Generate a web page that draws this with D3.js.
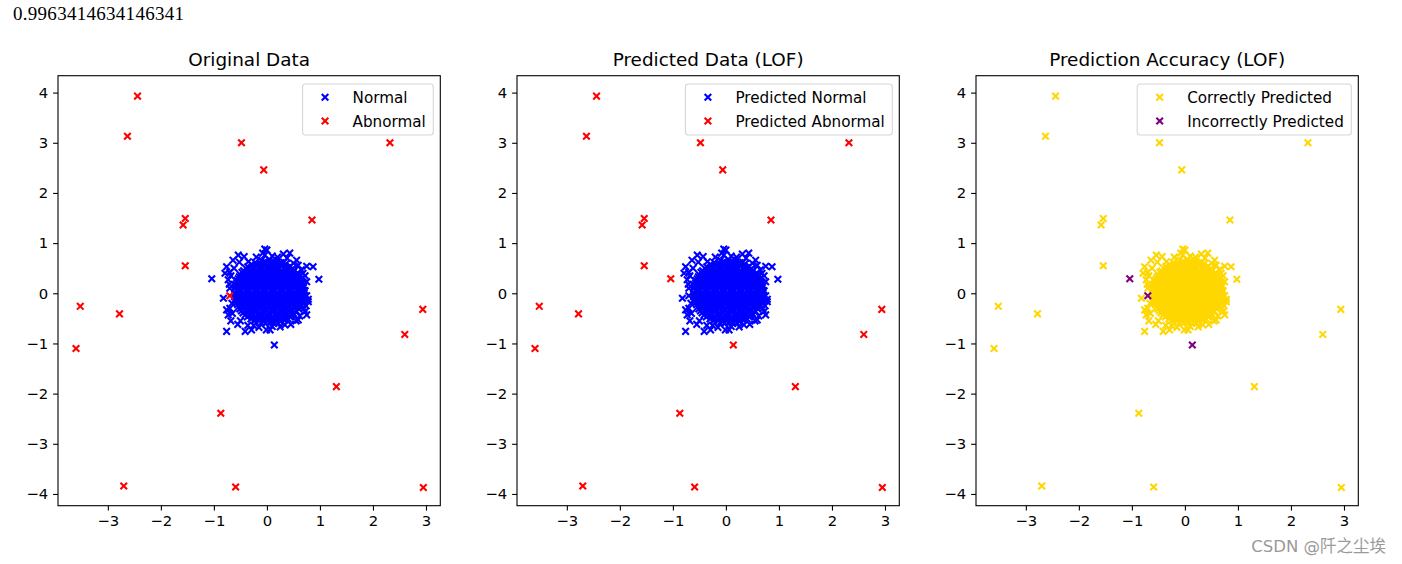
<!DOCTYPE html>
<html>
<head>
<meta charset="utf-8">
<script src="https://cdn.jsdelivr.net/npm/d3@7"></script>
<style>
  body { margin: 0; background: #fff; }
  svg { display: block; }
</style>
</head>
<body>
<svg></svg>
<script>
const accuracy = "0.9963414634146341";

// inliers that LOF kept as normal (dense cloud)
const normalPts = [
    [-0.10,0.66],[-0.03,0.63],[0.05,0.67],[0.13,0.64],[0.20,0.66],
    [-0.22,0.61],[-0.14,0.60],[-0.06,0.62],[0.02,0.60],[0.10,0.62],[0.18,0.60],[0.26,0.61],[0.32,0.62],
    [-0.29,0.58],[-0.21,0.56],[-0.13,0.59],[-0.05,0.56],[0.03,0.58],[0.11,0.55],[0.19,0.58],[0.27,0.56],[0.35,0.58],
    [-0.36,0.53],[-0.28,0.52],[-0.20,0.54],[-0.12,0.52],[-0.04,0.54],[0.04,0.52],[0.12,0.54],[0.20,0.52],[0.28,0.54],[0.36,0.52],[0.44,0.54],
    [-0.40,0.50],[-0.32,0.47],[-0.24,0.50],[-0.16,0.48],[-0.08,0.51],[0.00,0.48],[0.08,0.50],[0.16,0.47],[0.24,0.50],[0.32,0.48],[0.40,0.51],[0.47,0.48],
    [-0.44,0.45],[-0.36,0.44],[-0.28,0.46],[-0.20,0.44],[-0.12,0.46],[-0.04,0.44],[0.04,0.46],[0.12,0.44],[0.20,0.46],[0.28,0.44],[0.36,0.46],[0.44,0.44],[0.52,0.46],
    [-0.47,0.42],[-0.38,0.40],[-0.30,0.43],[-0.22,0.40],[-0.14,0.42],[-0.06,0.39],[0.02,0.42],[0.10,0.40],[0.18,0.43],[0.26,0.40],[0.34,0.42],[0.42,0.39],[0.50,0.42],[0.57,0.40],
    [-0.50,0.37],[-0.42,0.36],[-0.34,0.38],[-0.26,0.36],[-0.18,0.38],[-0.10,0.36],[-0.02,0.38],[0.06,0.36],[0.14,0.38],[0.22,0.36],[0.30,0.38],[0.38,0.36],[0.46,0.38],[0.54,0.36],[0.60,0.38],
    [-0.52,0.33],[-0.44,0.35],[-0.36,0.32],[-0.28,0.34],[-0.20,0.31],[-0.12,0.34],[-0.04,0.32],[0.04,0.35],[0.12,0.32],[0.20,0.34],[0.28,0.31],[0.36,0.34],[0.44,0.32],[0.52,0.35],[0.61,0.33],
    [-0.54,0.29],[-0.46,0.28],[-0.38,0.30],[-0.30,0.28],[-0.22,0.30],[-0.14,0.28],[-0.06,0.30],[0.02,0.28],[0.10,0.30],[0.18,0.28],[0.26,0.30],[0.34,0.28],[0.42,0.30],[0.50,0.28],[0.58,0.30],[0.64,0.29],
    [-0.56,0.25],[-0.48,0.23],[-0.40,0.26],[-0.32,0.24],[-0.24,0.26],[-0.16,0.23],[-0.08,0.25],[0.00,0.27],[0.08,0.24],[0.16,0.26],[0.24,0.23],[0.32,0.25],[0.40,0.27],[0.48,0.24],[0.56,0.26],[0.65,0.24],
    [-0.57,0.21],[-0.49,0.20],[-0.41,0.22],[-0.33,0.20],[-0.25,0.22],[-0.17,0.20],[-0.09,0.22],[-0.01,0.20],[0.07,0.22],[0.15,0.20],[0.23,0.22],[0.31,0.20],[0.39,0.22],[0.47,0.20],[0.55,0.22],[0.63,0.20],[0.68,0.22],
    [-0.59,0.17],[-0.50,0.19],[-0.42,0.16],[-0.34,0.18],[-0.26,0.15],[-0.18,0.18],[-0.10,0.16],[-0.02,0.19],[0.06,0.16],[0.14,0.18],[0.22,0.15],[0.30,0.18],[0.38,0.16],[0.46,0.19],[0.54,0.16],[0.62,0.18],[0.69,0.16],
    [-0.60,0.13],[-0.52,0.12],[-0.44,0.14],[-0.36,0.12],[-0.28,0.14],[-0.20,0.12],[-0.12,0.14],[-0.04,0.12],[0.04,0.14],[0.12,0.12],[0.20,0.14],[0.28,0.12],[0.36,0.14],[0.44,0.12],[0.52,0.14],[0.60,0.12],[0.69,0.13],
    [-0.61,0.09],[-0.53,0.07],[-0.45,0.10],[-0.37,0.08],[-0.29,0.11],[-0.21,0.08],[-0.13,0.10],[-0.05,0.07],[0.03,0.10],[0.11,0.08],[0.19,0.11],[0.27,0.08],[0.35,0.10],[0.43,0.07],[0.51,0.10],[0.59,0.08],[0.68,0.10],
    [-0.57,0.05],[-0.49,0.04],[-0.41,0.06],[-0.33,0.04],[-0.25,0.06],[-0.17,0.04],[-0.09,0.06],[-0.01,0.04],[0.07,0.06],[0.15,0.04],[0.23,0.06],[0.31,0.04],[0.39,0.06],[0.47,0.04],[0.55,0.06],[0.63,0.04],[0.71,0.05],
    [-0.60,0.01],[-0.52,0.03],[-0.44,0.00],[-0.36,0.02],[-0.28,-0.01],[-0.20,0.02],[-0.12,0.00],[-0.04,0.03],[0.04,0.00],[0.12,0.02],[0.20,-0.01],[0.28,0.02],[0.36,0.00],[0.44,0.03],[0.52,0.00],[0.60,0.02],[0.70,0.00],
    [-0.60,-0.03],[-0.52,-0.04],[-0.44,-0.02],[-0.36,-0.04],[-0.28,-0.02],[-0.20,-0.04],[-0.12,-0.02],[-0.04,-0.04],[0.04,-0.02],[0.12,-0.04],[0.20,-0.02],[0.28,-0.04],[0.36,-0.02],[0.44,-0.04],[0.52,-0.02],[0.60,-0.04],[0.69,-0.03],
    [-0.61,-0.07],[-0.53,-0.05],[-0.45,-0.08],[-0.37,-0.06],[-0.29,-0.09],[-0.21,-0.06],[-0.13,-0.08],[-0.05,-0.05],[0.03,-0.08],[0.11,-0.06],[0.19,-0.09],[0.27,-0.06],[0.35,-0.08],[0.43,-0.05],[0.51,-0.08],[0.59,-0.06],[0.69,-0.08],
    [-0.59,-0.11],[-0.51,-0.12],[-0.43,-0.10],[-0.35,-0.12],[-0.27,-0.10],[-0.19,-0.12],[-0.11,-0.10],[-0.03,-0.12],[0.05,-0.10],[0.13,-0.12],[0.21,-0.10],[0.29,-0.12],[0.37,-0.10],[0.45,-0.12],[0.53,-0.10],[0.61,-0.12],[0.68,-0.11],
    [-0.58,-0.15],[-0.50,-0.13],[-0.42,-0.16],[-0.34,-0.14],[-0.26,-0.17],[-0.18,-0.14],[-0.10,-0.16],[-0.02,-0.13],[0.06,-0.16],[0.14,-0.14],[0.22,-0.17],[0.30,-0.14],[0.38,-0.16],[0.46,-0.13],[0.54,-0.16],[0.61,-0.15],[0.67,-0.14],
    [-0.57,-0.19],[-0.49,-0.20],[-0.41,-0.18],[-0.33,-0.20],[-0.25,-0.18],[-0.17,-0.20],[-0.09,-0.18],[-0.01,-0.20],[0.07,-0.18],[0.15,-0.20],[0.23,-0.18],[0.31,-0.20],[0.39,-0.18],[0.47,-0.20],[0.55,-0.18],[0.62,-0.20],[0.67,-0.19],
    [-0.55,-0.23],[-0.47,-0.21],[-0.39,-0.24],[-0.31,-0.22],[-0.23,-0.25],[-0.15,-0.22],[-0.07,-0.24],[0.01,-0.21],[0.09,-0.24],[0.17,-0.22],[0.25,-0.25],[0.33,-0.22],[0.41,-0.24],[0.49,-0.21],[0.57,-0.24],[0.64,-0.22],
    [-0.53,-0.27],[-0.45,-0.28],[-0.37,-0.26],[-0.29,-0.28],[-0.21,-0.26],[-0.13,-0.28],[-0.05,-0.26],[0.03,-0.28],[0.11,-0.26],[0.19,-0.28],[0.27,-0.26],[0.35,-0.28],[0.43,-0.26],[0.51,-0.28],[0.58,-0.26],[0.63,-0.27],
    [-0.51,-0.31],[-0.43,-0.29],[-0.35,-0.32],[-0.27,-0.30],[-0.19,-0.33],[-0.11,-0.30],[-0.03,-0.32],[0.05,-0.29],[0.13,-0.32],[0.21,-0.30],[0.29,-0.33],[0.37,-0.30],[0.45,-0.32],[0.53,-0.29],[0.60,-0.31],
    [-0.48,-0.35],[-0.40,-0.36],[-0.32,-0.34],[-0.24,-0.36],[-0.16,-0.34],[-0.08,-0.36],[0.00,-0.34],[0.08,-0.36],[0.16,-0.34],[0.24,-0.36],[0.32,-0.34],[0.40,-0.36],[0.48,-0.34],[0.56,-0.36],
    [-0.45,-0.39],[-0.37,-0.37],[-0.29,-0.40],[-0.21,-0.38],[-0.13,-0.41],[-0.05,-0.38],[0.03,-0.40],[0.11,-0.37],[0.19,-0.40],[0.27,-0.38],[0.35,-0.41],[0.43,-0.38],[0.50,-0.40],
    [-0.41,-0.43],[-0.33,-0.44],[-0.25,-0.42],[-0.17,-0.44],[-0.09,-0.42],[-0.01,-0.44],[0.07,-0.42],[0.15,-0.44],[0.23,-0.42],[0.31,-0.44],[0.39,-0.42],[0.47,-0.44],[0.51,-0.43],
    [-0.37,-0.47],[-0.29,-0.45],[-0.21,-0.48],[-0.13,-0.46],[-0.05,-0.49],[0.03,-0.46],[0.11,-0.48],[0.19,-0.45],[0.27,-0.48],[0.35,-0.46],[0.44,-0.47],
    [-0.30,-0.51],[-0.22,-0.52],[-0.14,-0.50],[-0.06,-0.52],[0.02,-0.50],[0.10,-0.52],[0.18,-0.50],[0.26,-0.52],[0.34,-0.50],[0.40,-0.51],
    [-0.23,-0.55],[-0.15,-0.53],[-0.07,-0.56],[0.01,-0.54],[0.09,-0.57],[0.17,-0.54],[0.25,-0.56],[0.33,-0.53],
    [-0.11,-0.59],[-0.03,-0.60],[0.05,-0.58],[0.13,-0.60],[0.21,-0.59],
    // ragged edge of the cloud
    [-0.04,0.88],[0.00,0.86],[-0.08,0.80],[0.31,0.78],[0.43,0.80],[0.56,0.66],[0.59,0.56],[0.75,0.54],[0.87,0.53],
    [0.98,0.28],[0.75,0.23],[0.78,-0.12],[0.78,-0.17],[0.75,-0.43],[0.59,-0.53],[0.34,-0.63],[0.06,-0.73],[-0.01,-0.73],
    [0.25,-0.67],[-0.29,-0.73],[-0.41,-0.76],[-0.76,-0.76],[-0.73,-0.43],[-0.76,-0.33],[-0.82,-0.10],[-0.73,0.27],
    [-0.79,0.40],[-0.76,0.53],[-0.64,0.66],[-0.54,0.76],[-0.43,0.73],[-0.35,0.63],[-0.04,0.76],[0.20,0.72],[0.68,0.40],
    [0.70,-0.30],[0.45,-0.62],[-0.15,-0.68],[-0.55,-0.62],[-0.68,-0.55],[-0.70,0.10],[-0.66,-0.20],[0.72,0.05],
    [-0.68,0.35],[-0.70,-0.30],[-0.62,0.50],[0.72,0.35],[0.74,-0.25],[0.62,-0.45],[-0.50,-0.55],[0.50,0.60],
    [-0.20,0.72],[0.10,-0.66],[-0.36,-0.64],[0.65,0.47],[-0.71,0.18],[0.75,-0.05],[-0.52,0.62],[0.38,0.70],
    [-0.65,-0.40],[0.55,-0.55],[-0.70,0.42],[0.10,0.74],[-0.25,-0.64],[0.72,-0.36]
];
// inliers that LOF flagged as abnormal
const falseAlarmPts = [[-1.04,0.29],[0.14,-1.03]];
// outliers that LOF flagged as abnormal
const abnormalPts = [
    [-2.44,3.93],[-2.63,3.13],[-0.48,3.00],[2.32,3.00],[-0.06,2.46],[-1.54,1.49],[-1.58,1.36],
    [0.85,1.46],[-1.54,0.55],[-3.52,-0.26],[-2.78,-0.41],[-3.60,-1.10],[2.94,-0.32],[2.60,-0.82],
    [1.31,-1.86],[-0.87,-2.39],[-2.70,-3.84],[-0.59,-3.86],[2.95,-3.87]
];
// outlier that LOF missed
const missedPts = [[-0.70,-0.05]];

const xTicks = [-3, -2, -1, 0, 1, 2, 3];
const yTicks = [-4, -3, -2, -1, 0, 1, 2, 3, 4];

const panels = [
    { title: "Original Data", series: [
        { label: "Normal", color: "blue", pts: normalPts.concat(falseAlarmPts) },
        { label: "Abnormal", color: "red", pts: abnormalPts.concat(missedPts) } ] },
    { title: "Predicted Data (LOF)", series: [
        { label: "Predicted Normal", color: "blue", pts: normalPts.concat(missedPts) },
        { label: "Predicted Abnormal", color: "red", pts: abnormalPts.concat(falseAlarmPts) } ] },
    { title: "Prediction Accuracy (LOF)", series: [
        { label: "Correctly Predicted", color: "gold", pts: normalPts.concat(abnormalPts) },
        { label: "Incorrectly Predicted", color: "purple", pts: falseAlarmPts.concat(missedPts) } ] }
];

let svgWidth = 1402, svgHeight = 564;
let svg = d3.select("svg").attr("width", svgWidth).attr("height", svgHeight);

svg.append("text")
    .attr("x", 13).attr("y", 20)
    .attr("font-family", "'Liberation Serif', serif")
    .attr("font-size", 19)
    .attr("fill", "#000")
    .attr("textLength", 171)
    .text(accuracy);

let lefts = [58, 517, 976];
let axTop = 75.7, width = 382.3, height = 430;
let font = "'DejaVu Sans', sans-serif";

let x = d3.scaleLinear().domain([-3.94, 3.27]).range([0, width]);
let y = d3.scaleLinear().domain([-4.234, 4.337]).range([height, 0]);

let cross = "M-3.3,-3.3L3.3,3.3M-3.3,3.3L3.3,-3.3";
let fmt = d => d < 0 ? "\u2212" + Math.abs(d) : String(d);

panels.forEach(function (p, i) {
    let g = svg.append("g").attr("transform", "translate(" + lefts[i] + "," + axTop + ")");

    p.series.forEach(function (s) {
        g.append("g").selectAll("path")
            .data(s.pts)
            .enter().append("path")
            .attr("transform", d => "translate(" + x(d[0]) + "," + y(d[1]) + ")")
            .attr("d", cross)
            .attr("fill", "none")
            .attr("stroke", s.color)
            .attr("stroke-width", 2.1);
    });

    let xa = g.append("g")
        .attr("transform", "translate(0," + height + ")")
        .call(d3.axisBottom(x).tickValues(xTicks).tickFormat(fmt).tickSize(4.9).tickPadding(4.9));
    let ya = g.append("g")
        .call(d3.axisLeft(y).tickValues(yTicks).tickFormat(fmt).tickSize(4.9).tickPadding(4.9));
    [xa, ya].forEach(function (a) {
        a.select(".domain").remove();
        a.selectAll("line").attr("stroke", "#000").attr("stroke-width", 1.1);
        a.selectAll("text").attr("font-family", font).attr("font-size", 14.8).attr("fill", "#000");
    });

    g.append("rect")
        .attr("width", width).attr("height", height)
        .attr("fill", "none").attr("stroke", "#000").attr("stroke-width", 1.1);

    g.append("text")
        .attr("x", width / 2).attr("y", -9.5)
        .attr("text-anchor", "middle")
        .attr("font-family", font).attr("font-size", 18.4)
        .attr("fill", "#000")
        .text(p.title);

    // legend
    let lg = g.append("g");
    let box = lg.append("rect");
    let rows = [13.3, 37];
    let texts = p.series.map(function (s, k) {
        return lg.append("text")
            .attr("x", 50).attr("y", rows[k] + 5.5)
            .attr("font-family", font).attr("font-size", 15.2)
            .attr("fill", "#000")
            .text(s.label);
    });
    let tw = d3.max(texts, t => t.node().getComputedTextLength());
    let bw = 50 + tw + 7.5;
    p.series.forEach(function (s, k) {
        lg.append("path")
            .attr("transform", "translate(22.5," + rows[k] + ")")
            .attr("d", cross)
            .attr("fill", "none").attr("stroke", s.color).attr("stroke-width", 2.1);
    });
    box.attr("width", bw).attr("height", 51).attr("rx", 3)
        .attr("fill", "#fff").attr("fill-opacity", 0.8)
        .attr("stroke", "#d6d6d6").attr("stroke-width", 1.1);
    lg.attr("transform", "translate(" + (width - 7 - bw) + ",8.3)");
});

svg.append("text")
    .attr("x", 1386).attr("y", 552)
    .attr("text-anchor", "end")
    .attr("font-family", "'DejaVu Sans', 'Noto Sans CJK SC', sans-serif")
    .attr("font-size", 16.5)
    .attr("fill", "#9a9a9a")
    .text("CSDN @阡之尘埃");
</script>
</body>
</html>
